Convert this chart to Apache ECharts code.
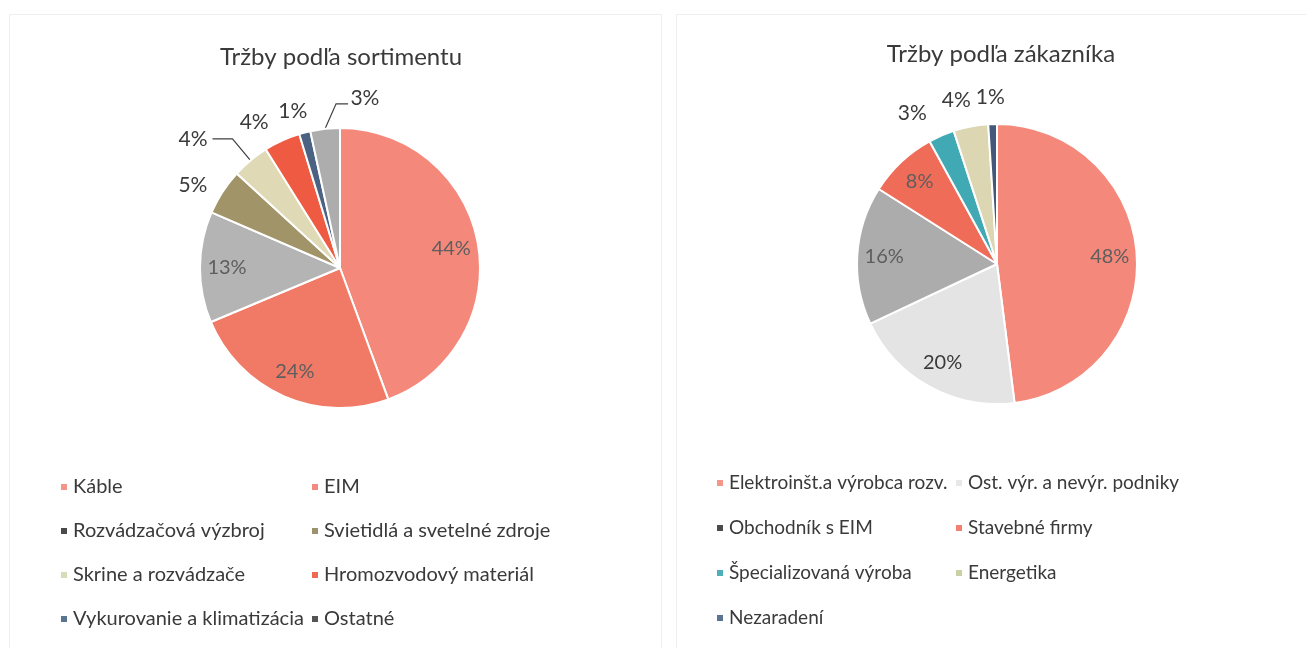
<!DOCTYPE html>
<html>
<head>
<meta charset="utf-8">
<script src="https://cdn.jsdelivr.net/npm/echarts@6/dist/echarts.min.js"></script>
<style>
  html, body { margin: 0; padding: 0; background: #fff; }
  #chart { width: 1306px; height: 648px; }
</style>
</head>
<body>
<div id="chart"></div>
<script>
// Tržby podľa sortimentu
const sortimentNames = ['Káble', 'EIM', 'Rozvádzačová výzbroj', 'Svietidlá a svetelné zdroje',
  'Skrine a rozvádzače', 'Hromozvodový materiál', 'Vykurovanie a klimatizácia', 'Ostatné']
const sortimentValues = [44.4, 24.3, 12.8, 5.3, 4.3, 4.2, 1.3, 3.4]

// Tržby podľa zákazníka
const zakaznikNames = ['Elektroinšt.a výrobca rozv.', 'Ost. výr. a nevýr. podniky', 'Obchodník s EIM',
  'Stavebné firmy', 'Špecializovaná výroba', 'Energetika', 'Nezaradení']
const zakaznikValues = [48, 20, 16, 8, 3, 4, 1]

const FONT = 'Lato'
const sortimentColors = ['#f4897b', '#f07a65', '#b4b4b4', '#a09468', '#e0d9b6', '#ef5a43', '#4b6283', '#adadad']
const sortimentLegendColors = ['#f4958a', '#f28a7e', '#4a4a4a', '#9c926c', '#d6ddb8', '#ee6a52', '#5b7493', '#555555']
const zakaznikColors = ['#f4897b', '#e4e4e4', '#acacac', '#ef6c58', '#41a9b3', '#dcd6b2', '#44597a']
const zakaznikLegendColors = ['#f4968a', '#e8e8e8', '#4a4a4a', '#f28070', '#4fafb8', '#cbd0a4', '#5b7493']

// which slices carry their label inside
const sortimentInside = [0, 1, 2]
const zakaznikInside = [0, 1, 2, 3]

// outside label tuning: [labelLine length, length2, show line]
const sortimentOuter = {
  3: [12, 0, false],
  4: [28, 20, true],
  5: [20, 0, false],
  6: [22, 0, false],
  7: [25, 8, true]
}
const zakaznikOuter = {
  4: [24, 0, false],
  5: [27, 0, false],
  6: [27, 0, false]
}

// "Ostatné" label sits to the right of its leader line (Excel style)
function sortimentShift(p) {
  if (p.dataIndex === 6) return { dx: 13 }
  if (p.dataIndex === 7 && p.labelLinePoints) {
    const p0 = p.labelLinePoints[0]
    return {
      dx: 41, dy: -6, align: 'left',
      labelLinePoints: [p0, [p0[0] + 11, p0[1] - 25], [p0[0] + 23, p0[1] - 25]]
    }
  }
  return {}
}
function zakaznikShift(p) {
  if (p.dataIndex === 5) return { dx: 10 }
  if (p.dataIndex === 6) return { dx: 18 }
  return {}
}

const fmt = p => Math.round(p.value) + '%'

function mainPie(names, values, colors, outer, shift, center) {
  return {
    type: 'pie',
    center: center,
    radius: 140,
    startAngle: 90,
    avoidLabelOverlap: false,
    silent: true,
    itemStyle: { borderColor: '#fff', borderWidth: 2 },
    labelLayout: shift,
    data: values.map((v, i) => {
      const o = outer[i]
      return {
        name: names[i],
        value: v,
        itemStyle: { color: colors[i] },
        label: {
          show: !!o,
          position: 'outside',
          formatter: fmt,
          fontFamily: FONT,
          fontSize: 21,
          color: '#3a3a3a',
          distanceToLabelLine: 5
        },
        labelLine: o ? {
          show: o[2], length: o[0], length2: o[1], smooth: false,
          lineStyle: { color: '#404040', width: 1.2 }
        } : { show: false }
      }
    })
  }
}

function labelPie(names, values, inside, center, darkIdx) {
  return {
    type: 'pie',
    center: center,
    radius: [80, 140],
    startAngle: 90,
    silent: true,
    avoidLabelOverlap: false,
    itemStyle: { color: 'rgba(0,0,0,0)', borderWidth: 0 },
    labelLine: { show: false },
    data: values.map((v, i) => ({
      name: names[i],
      value: v,
      label: {
        show: inside.includes(i),
        position: 'inside',
        formatter: fmt,
        fontFamily: FONT,
        fontSize: 20,
        color: i === darkIdx ? '#3a3a3a' : '#5e5e5e'
      }
    }))
  }
}

function legendCol(names, colors, idx, left, top, gap, size) {
  return {
    orient: 'vertical',
    left: left,
    top: top,
    padding: 0,
    itemGap: gap,
    itemWidth: 8,
    itemHeight: 8,
    icon: 'rect',
    selectedMode: false,
    textStyle: { fontFamily: FONT, fontSize: size, color: '#3a3a3a', lineHeight: 22 },
    data: idx.map(i => ({ name: names[i], itemStyle: { color: colors[i] } }))
  }
}

const chart = echarts.init(document.getElementById('chart'))

chart.setOption({
  animation: false,
  title: [
    { text: 'Tržby podľa sortimentu', left: 336, top: 40, textAlign: 'center',
      textStyle: { fontFamily: FONT, fontSize: 24, fontWeight: 'normal', color: '#3a3a3a' } },
    { text: 'Tržby podľa zákazníka', left: 996, top: 37, textAlign: 'center',
      textStyle: { fontFamily: FONT, fontSize: 24, fontWeight: 'normal', color: '#3a3a3a' } }
  ],
  legend: [
    legendCol(sortimentNames, sortimentLegendColors, [0, 2, 4, 6], 59, 476, 22, 20),
    legendCol(sortimentNames, sortimentLegendColors, [1, 3, 5, 7], 310, 476, 22, 20),
    legendCol(zakaznikNames, zakaznikLegendColors, [0, 2, 4, 6], 715, 472, 23, 19),
    legendCol(zakaznikNames, zakaznikLegendColors, [1, 3, 5], 954, 472, 23, 19)
  ],
  graphic: [
    { type: 'rect', shape: { x: 9.5, y: 14.5, width: 652, height: 640 }, style: { fill: 'none', stroke: '#eeeeee', lineWidth: 1 } },
    { type: 'rect', shape: { x: 676.5, y: 14.5, width: 640, height: 640 }, style: { fill: 'none', stroke: '#eeeeee', lineWidth: 1 } }
  ],
  series: [
    mainPie(sortimentNames, sortimentValues, sortimentColors, sortimentOuter, sortimentShift, [340, 268]),
    labelPie(sortimentNames, sortimentValues, sortimentInside, [340, 268], -1),
    mainPie(zakaznikNames, zakaznikValues, zakaznikColors, zakaznikOuter, zakaznikShift, [997, 264]),
    labelPie(zakaznikNames, zakaznikValues, zakaznikInside, [997, 264], 1)
  ]
})
</script>
</body>
</html>
